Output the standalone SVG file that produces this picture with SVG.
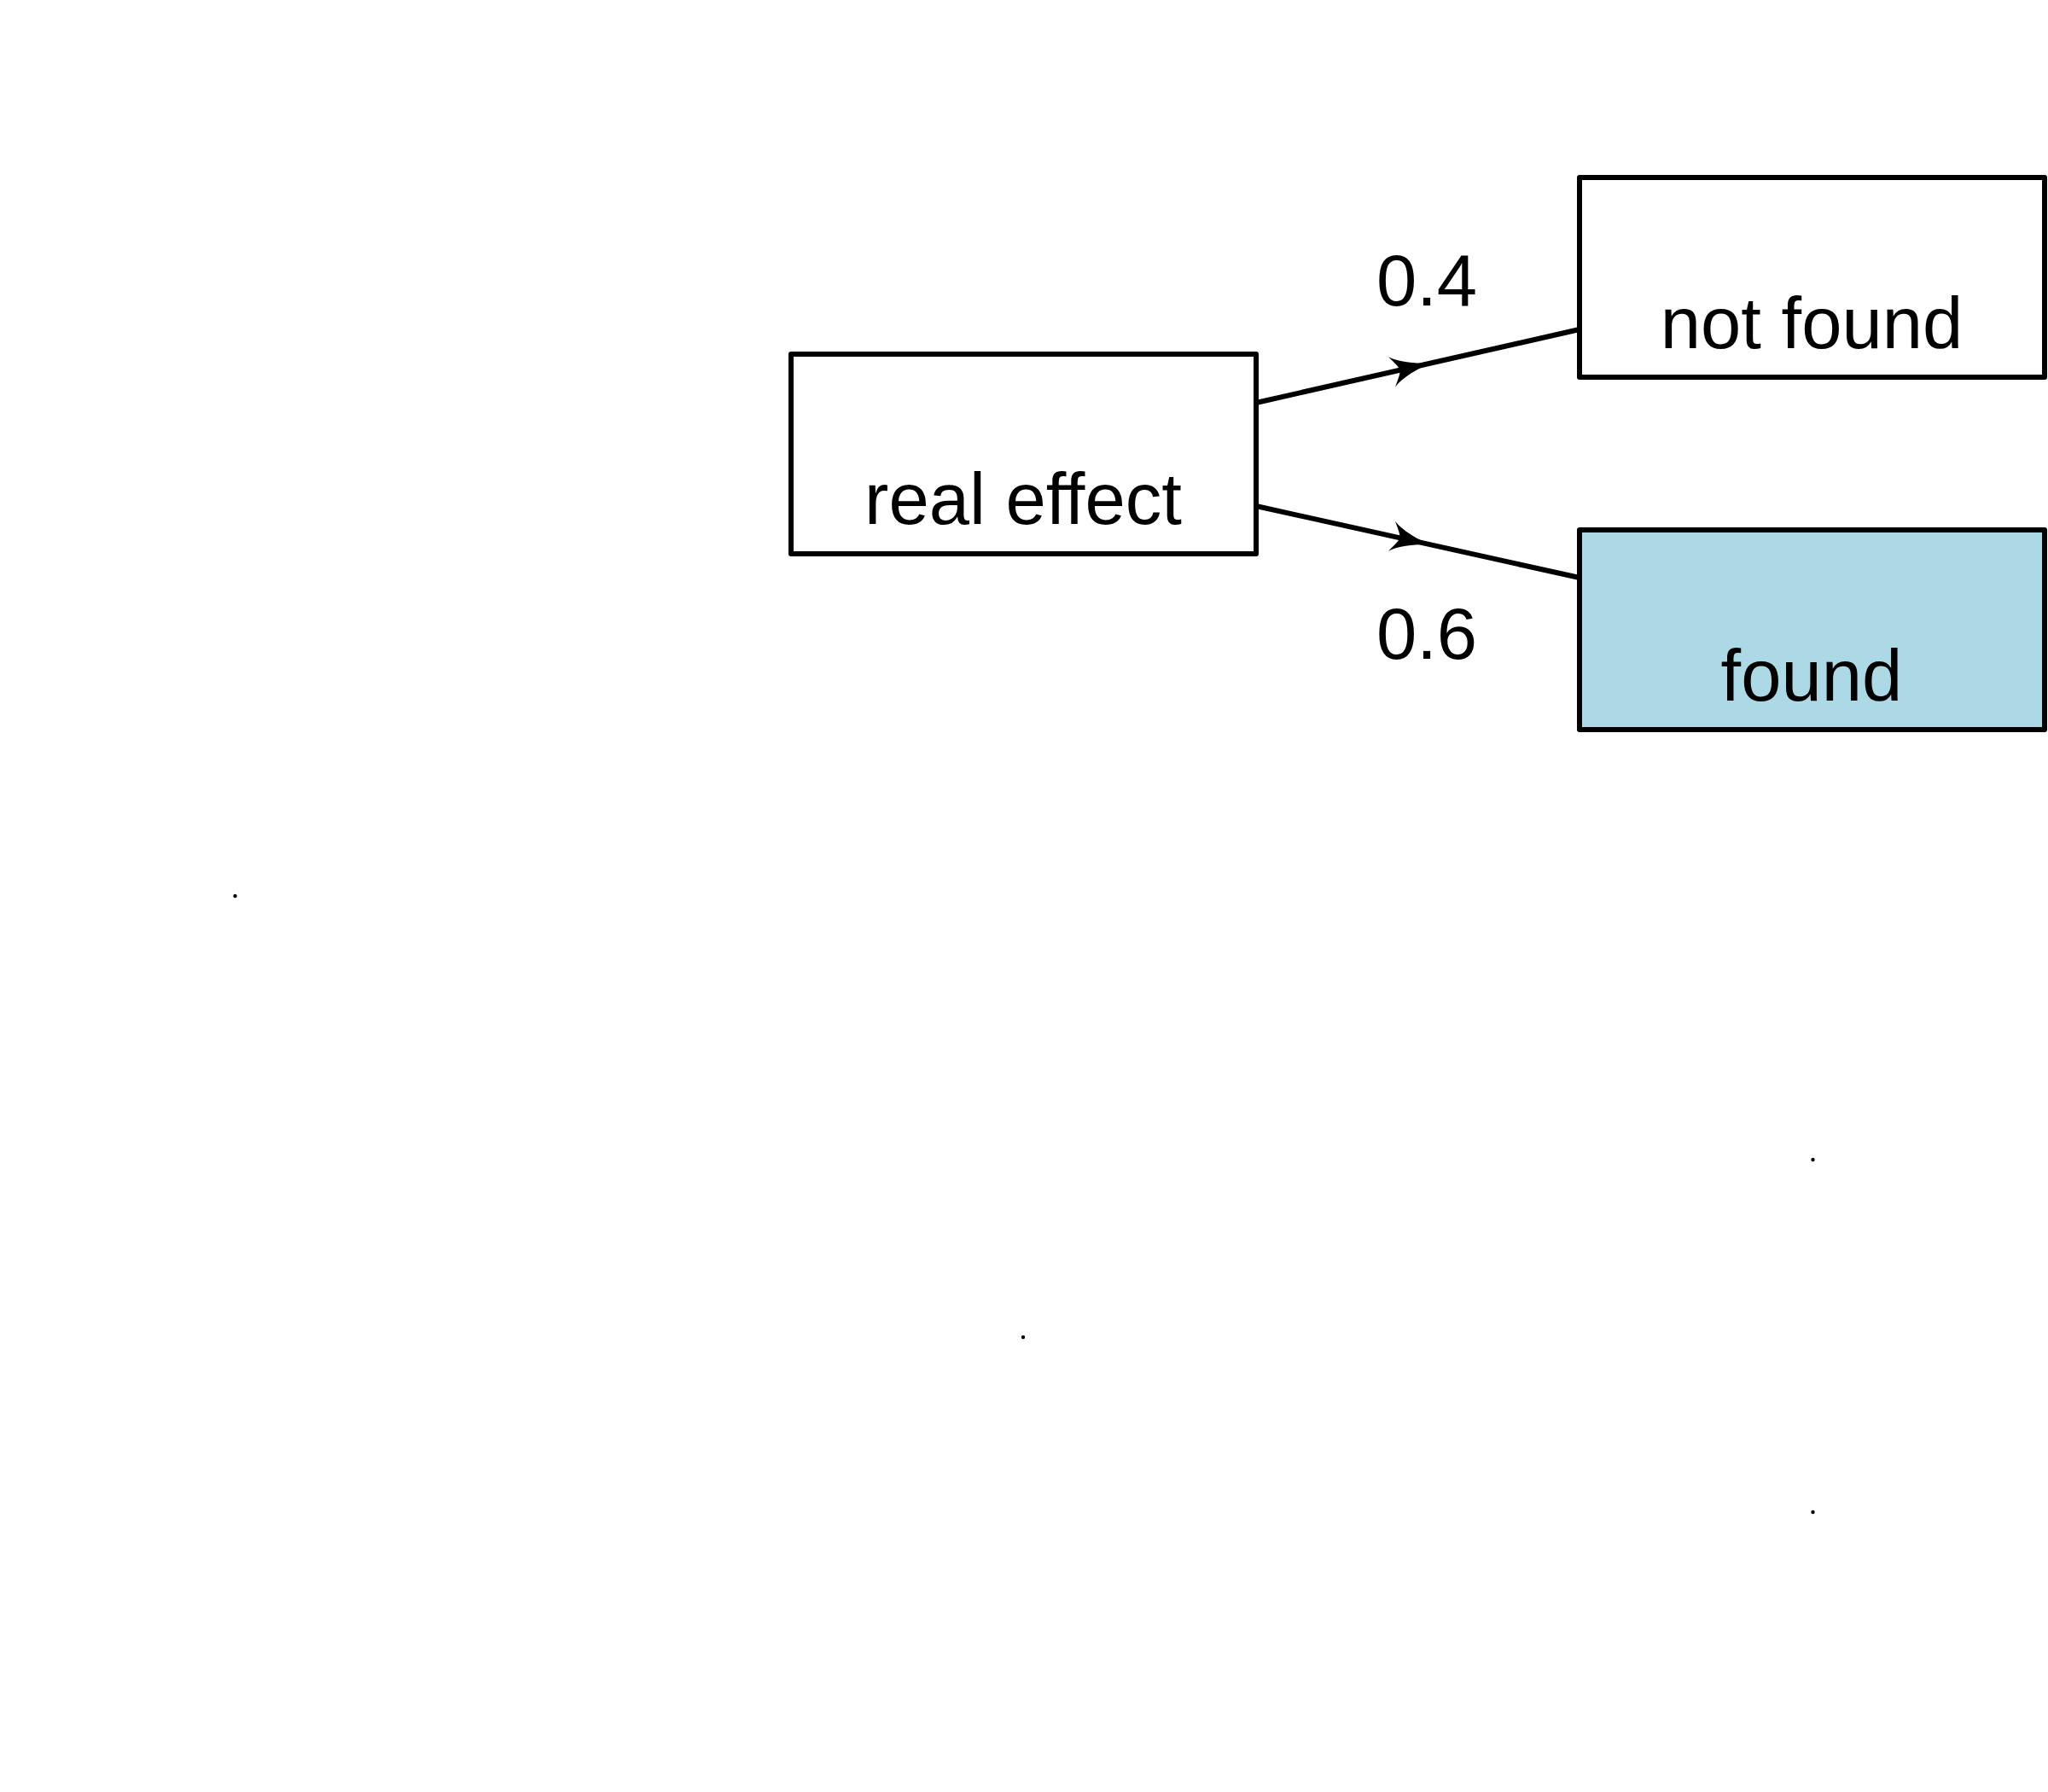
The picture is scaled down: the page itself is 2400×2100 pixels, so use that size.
<svg xmlns="http://www.w3.org/2000/svg" xmlns:xlink="http://www.w3.org/1999/xlink" width="2400" height="2100" viewBox="0 0 2400 2100">
<style>
.box{fill:#ffffff;stroke:#000000;stroke-width:6;stroke-linejoin:round}
.found{fill:#ADD8E6}
.lbl{font-family:"Liberation Sans",Arial,sans-serif;font-size:85px;fill:#000000;text-anchor:middle;font-variant-ligatures:none;font-feature-settings:"liga" 0,"clig" 0;letter-spacing:0.01px}
.edge{fill:none;stroke:#000000;stroke-width:6;stroke-linecap:butt}
.dot{fill:#000000}
</style>
<defs>
<path id="ah" d="M 4,0 C -12,-3 -31,-9 -42,-18 C -36,-9 -33,-4 -32,0 C -33,4 -36,9 -42,18 C -31,9 -12,3 4,0 Z" fill="#000000"/>
</defs>
<rect width="2400" height="2100" fill="#ffffff"/>
<g id="connectors">
<line class="edge" x1="1472" y1="472" x2="1851" y2="386"/>
<use xlink:href="#ah" href="#ah" transform="translate(1672,426.6) rotate(-12.78)"/>
<text class="lbl" x="1672" y="358">0.4</text>
<line class="edge" x1="1472" y1="593" x2="1851" y2="677"/>
<use xlink:href="#ah" href="#ah" transform="translate(1672,637.3) rotate(12.5)"/>
<text class="lbl" x="1672" y="772">0.6</text>
</g>
<g id="node-real-effect">
<rect class="box" x="927" y="415" width="545" height="234"/>
<text class="lbl" x="1199" y="614">real effect</text>
</g>
<g id="node-not-found">
<rect class="box" x="1851" y="208" width="545" height="234"/>
<text class="lbl" x="2123" y="408">not found</text>
</g>
<g id="node-found">
<rect class="box found" x="1851" y="621" width="545" height="234"/>
<text class="lbl" x="2123" y="821">found</text>
</g>
<g id="dots">
<circle class="dot" cx="275.5" cy="1050" r="2.2"/>
<circle class="dot" cx="2124.5" cy="1359" r="2.2"/>
<circle class="dot" cx="1199" cy="1567" r="2.2"/>
<circle class="dot" cx="2124.5" cy="1772" r="2.2"/>
</g>
</svg>
